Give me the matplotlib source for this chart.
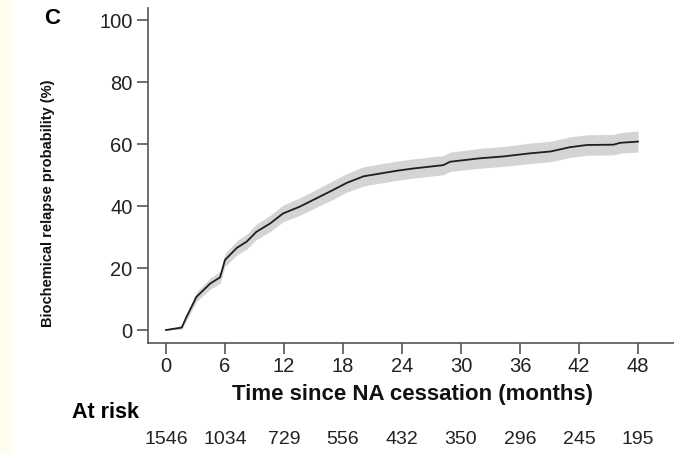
import matplotlib
matplotlib.use("Agg")
import matplotlib.pyplot as plt
from matplotlib.patches import Rectangle
from matplotlib.transforms import blended_transform_factory

plt.rcParams['font.family'] = ['Liberation Sans', 'DejaVu Sans']

# Data
months = [0, 1.6, 2.1, 3.1, 4.5, 5.5, 6.0, 7.2, 8.2, 9.2, 10.6, 11.9, 13.6, 15.3,
          17.0, 18.4, 20.1, 21.8, 23.5, 25.1, 26.8, 28.2, 28.9, 31.9, 34.3, 37.0,
          39.1, 41.1, 42.8, 45.5, 46.2, 48.0]
relapse = [0, 0.8, 4.3, 10.7, 15.0, 17.0, 22.6, 26.5, 28.5, 31.7, 34.4, 37.6, 39.8, 42.5,
           45.2, 47.5, 49.6, 50.5, 51.4, 52.1, 52.7, 53.2, 54.3, 55.4, 56.0, 57.0,
           57.6, 59.0, 59.7, 59.8, 60.4, 60.8]
ci_lower = [0, 0.2, 3.2, 9.2, 13.2, 15.1, 20.5, 24.2, 26.1, 29.2, 31.8, 34.9, 37.0, 39.6,
            42.2, 44.5, 46.5, 47.4, 48.3, 49.0, 49.6, 50.1, 51.2, 52.2, 52.8, 53.7,
            54.3, 55.7, 56.4, 56.5, 57.1, 57.4]
ci_upper = [0, 1.4, 5.4, 12.2, 16.8, 18.9, 24.7, 28.8, 30.9, 34.2, 37.0, 40.3, 42.6, 45.4,
            48.2, 50.5, 52.7, 53.6, 54.5, 55.2, 55.8, 56.3, 57.4, 58.6, 59.2, 60.3,
            60.9, 62.3, 63.0, 63.1, 63.7, 64.2]

x_ticks = [0, 6, 12, 18, 24, 30, 36, 42, 48]
y_ticks = [0, 20, 40, 60, 80, 100]
at_risk = [1546, 1034, 729, 556, 432, 350, 296, 245, 195]

fig = plt.figure(figsize=(6.74, 4.54), dpi=100)
fig.patch.set_facecolor('white')
fig.patches.append(Rectangle((0, 0), 13 / 674, 1, transform=fig.transFigure,
                             facecolor='#fffdf0', edgecolor='none', zorder=0))

ax = fig.add_axes([148 / 674, (454 - 343) / 454, (674 - 148) / 674, (343 - 8) / 454])
ax.fill_between(months, ci_lower, ci_upper, color='#d4d4d4', linewidth=0, zorder=1)
ax.plot(months, relapse, color='#1e1e1e', linewidth=1.3, zorder=2)

ax.set_xlim(-1.83, 51.66)
ax.set_ylim(-4.19, 103.9)
ax.set_xticks(x_ticks)
ax.set_yticks(y_ticks)
for s in ['top', 'right']:
    ax.spines[s].set_visible(False)
for s in ['left', 'bottom']:
    ax.spines[s].set_color('#555555')
    ax.spines[s].set_linewidth(1.2)
ax.tick_params(axis='both', direction='out', length=8, width=1.2, color='#555555',
               labelsize=14.5, labelcolor='#222222')
ax.tick_params(axis='x', pad=2)
ax.tick_params(axis='y', pad=3)

ax.set_xlabel('Time since NA cessation (months)', fontsize=16, fontweight='bold',
              color='#111111')
ax.xaxis.set_label_coords((413 - 148) / 526, (343 - 384) / 335)
ax.set_ylabel('Biochemical relapse probability (%)', fontsize=10.5, fontweight='bold',
              color='#111111')
ax.yaxis.set_label_coords((55 - 148) / 526, (343 - 203) / 335)

fig.text(44 / 674, 1 - 18 / 454, 'C', fontsize=16, fontweight='bold', ha='left', va='center')

trans = blended_transform_factory(ax.transData, ax.transAxes)
ax.text((72 - 166) / 9.833, (343 - 412) / 335, 'At risk', transform=trans, fontsize=15.5,
        fontweight='bold', ha='left', va='center', clip_on=False)
for xt, n in zip(x_ticks, at_risk):
    ax.text(xt, (343 - 439) / 335, str(n), transform=trans, fontsize=14, ha='center',
            va='center', color='#222222', clip_on=False)

fig.savefig('out.png', dpi=100)
